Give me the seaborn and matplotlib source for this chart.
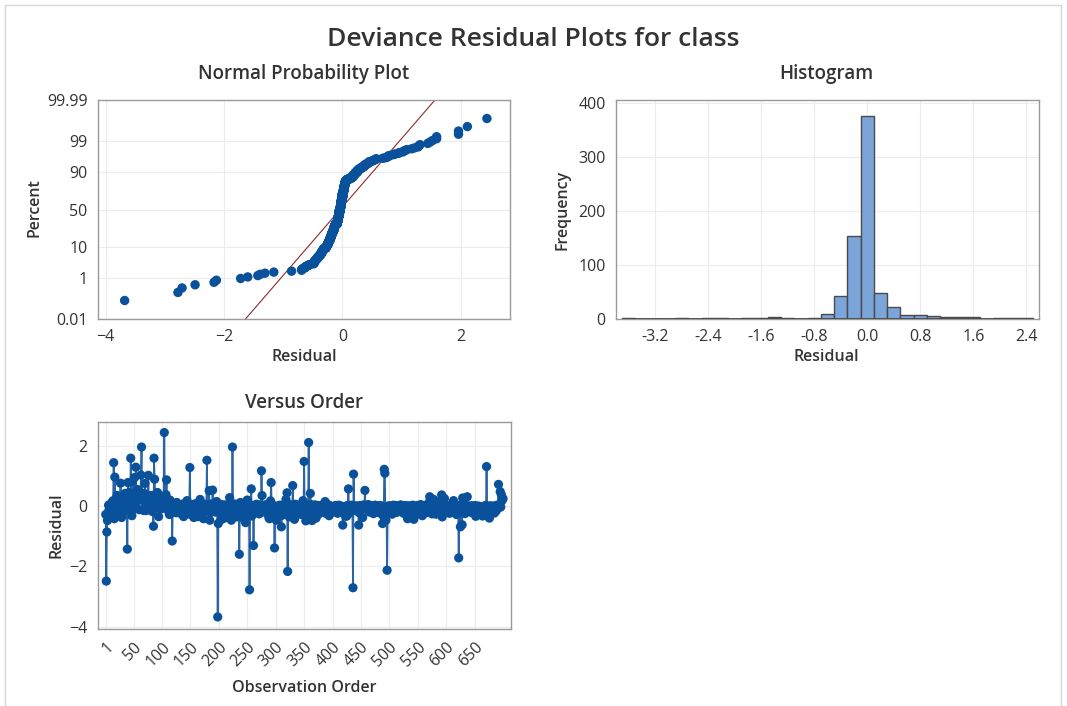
#!/usr/bin/env python3
"""Deviance residual plots (normal probability, histogram, versus order)."""

from statistics import NormalDist

import matplotlib
matplotlib.use('Agg')
import matplotlib.pyplot as plt
from matplotlib.patches import Rectangle
import numpy as np
import pandas as pd
import seaborn as sns

BULK_RESIDUALS_X100 = [
    -28, -15, -40, -48, -22, 3, -12, -35, 5, -18, -4, 12, -25, 18, -8, -42, 6, -20, -32, 8,
    35, -6, -32, 15, 22, -14, 22, -18, -38, 7, -20, 5, -7, 18, 42, 28, -12, 15, 25, -5,
    35, 45, -5, 20, 15, 32, -32, 82, 3, 28, 18, 95, -6, 20, -8, 40, 55, 25, 22, -12,
    45, 38, 15, -4, 28, 18, 25, -15, 42, 75, -3, -15, 20, 25, 5, 102, -6, -8, 25, 35,
    32, 18, -18, -2, 5, -25, 20, 38, 22, -5, 4, 45, 15, -35, 8, -4, 20, 5, -9, 25,
    28, -3, 32, -20, 25, -6, 38, -5, 12, -2, -15, 18, -28, 20, 5, -8, -4, 15, 0, -20,
    5, -15, 2, -4, -22, 12, -6, -1, 3, -18, 0, -8, -25, 4, -3, -12, 7, -35, -2, 1,
    -14, 3, -5, 18, -20, 0, -7, -2, 6, -28, -4, 2, -16, -9, 5, -38, -1, -12, 8, -3,
    -6, 4, -24, -35, 2, -15, 22, -5, -8, -22, -19, 0, -42, -3, 6, -13, -7, 1, -26, -2,
    3, -17, -4, 0, -22, 7, -6, -1, -32, 5, -14, -8, 2, -20, -3, 15, -8, 4, -27, -5,
    0, -13, 6, -45, -25, -7, 3, -18, -16, -40, 4, -6, -15, 1, -9, -21, 5, -3, 28, -12,
    -4, 2, -16, -8, 0, -23, -5, 7, -2, -14, -36, 3, -6, -19, 1, -7, -4, 12, -28, -1,
    5, -18, -38, 0, -45, -7, -55, -13, -5, 20, -24, -1, 4, -16, -8, 3, -2, -33, -9, 1,
    -6, -14, 2, -3, -21, 6, 0, -17, -8, 4, -26, -2, -12, 1, -5, 35, -19, -7, 3, -15,
    0, -18, -22, 5, -9, -13, 2, -38, -42, -6, 17, -18, -3, 4, -27, -7, 1, -11, -5, -2,
    6, -16, -3, 0, -24, -8, 3, -14, -1, -5, -31, 2, -20, -6, 4, -12, -9, 22, -2, -17,
    -4, 1, -13, -36, 5, -25, -2, -14, -19, -8, 3, -15, -44, -1, 6, -11, -5, 2, -22, -3,
    0, -16, -6, 4, -28, -2, -9, 18, -12, 1, -4, -21, -7, 3, -35, -1, -14, -5, 2, -18,
    -3, 5, -23, -48, 0, -12, -22, -6, 4, -17, -40, -1, -13, 2, -5, -26, -9, 1, -15, -4,
    3, -19, -7, 0, -11, -2, 15, -24, -5, -1, -14, -8, 4, -32, -3, -16, 0, -6, -21, -2,
    -5, -8, 0, -3, -18, 2, -7, -1, -24, -4, 3, -9, -15, -2, 0, -6, -21, 1, -8, -3,
    -2, -14, -34, 0, -33, -7, 2, -7, -24, -1, -19, -6, 3, -3, -8, -26, 0, -2, -13, -5,
    1, -7, -16, -3, 0, -4, -22, -8, 2, -1, -6, -5, -38, -2, 4, -9, -17, -3, 0, -6,
    -9, -2, 5, -4, -20, -7, 0, -3, -14, 1, -8, -25, -1, -5, 3, -13, -6, -2, -18, 0,
    -4, -9, -23, 2, -18, -6, -8, -58, -3, -35, -7, 4, -15, -2, -5, -1, -19, -8, 1, -3,
    -6, 0, -14, -2, -27, -4, 3, -8, -1, -6, -5, 2, -21, -3, -7, 0, -16, -2, -9, 4,
    -1, -13, -5, 0, -24, -3, -8, 2, -17, -6, -1, -42, -4, 1, -5, -7, -2, 0, -20, -5,
    3, -9, -44, -15, -4, -21, -28, -6, 2, -3, -7, -8, -1, -19, 5, -2, -6, -32, 0, -4,
    -14, -1, -7, 3, -22, -3, 0, -9, -5, 12, -18, -2, -6, 1, -26, -4, -8, 22, -1, -9,
    -3, -27, -16, -6, 2, -15, -21, -8, -4, 15, -13, -2, -36, -5, 0, -9, 25, -3, -17, -1,
    -6, 2, -8, -4, 0, -24, -2, -7, 1, -15, -5, -3, 18, -19, -1, -8, 0, -28, -4, -2,
    -9, -1, -14, 3, -5, -20, -2, -62, -7, -19, -3, 4, -25, -6, -1, -16, 20, -4, -8, 0,
    -2, -13, -5, 1, -22, -7, 0, -3, -17, -6, 2, -34, -1, -9, -4, -4, 0, -2, -19, -5,
    -3, -8, -15, -33, -4, -13, -26, -6, 2, -7, -5, -2, -18, 0, -7, -40, -3, 1, -14, -6,
    -1, -9, -4, 0, -23, -6, -2, -16, 3, -8, -1, -13, -5, 0, -28, -3, 12, 18, 22, 25,
]

# Large residuals (observation number, residual)
SPIKE_ORDER = [1, 2, 3, 15, 17, 27, 39, 40, 45, 54,
               63, 64, 85, 86, 87, 104, 108, 118, 149, 179,
               183, 184, 189, 198, 199, 222, 224, 236, 254, 257,
               261, 275, 292, 298, 301, 310, 320, 321, 330, 350,
               353, 358, 361, 418, 428, 436, 437, 446, 457, 491,
               492, 494, 496, 571, 592, 622, 625, 629, 637, 671,
               692, 695, 697]
SPIKE_RESIDUAL = [-0.28, -2.49, -0.86, 1.44, 0.96, 0.76, -1.43, 0.78, 1.59, 1.29,
                  1.03, 1.96, -0.67, 1.59, 0.89, 2.44, 0.87, -1.16, 1.28, 1.52,
                  0.51, -0.47, 0.53, -3.68, -0.58, -0.47, 1.96, -1.60, -2.78, 0.57,
                  -1.31, 1.17, 0.78, -1.39, -0.47, -0.69, 0.44, -2.17, 0.68, 1.48,
                  -0.49, 2.11, 0.42, -0.63, 0.57, -2.71, 1.06, -0.63, 0.52, 1.22,
                  1.09, -0.47, -2.13, 0.31, 0.37, -1.72, -0.69, 0.27, 0.31, 1.31,
                  0.72, 0.48, 0.38]

NP_PERCENT_TICKS = [0.01, 1, 10, 50, 90, 99, 99.99]
NP_PERCENT_LABELS = ['0.01', '1', '10', '50', '90', '99', '99.99']
NP_XTICKS = [-4, -2, 0, 2]
HIST_XTICKS = [-3.2, -2.4, -1.6, -0.8, 0.0, 0.8, 1.6, 2.4]
HIST_YTICKS = [0, 100, 200, 300, 400]
ORDER_XTICKS = [1, 50, 100, 150, 200, 250, 300, 350, 400, 450, 500, 550, 600, 650]
ORDER_YTICKS = [-4, -2, 0, 2]

DOT = '#0A519C'
LINE = '#2A64A4'
BAR = '#7BA4D8'
TEXT = '#333333'
FONT = ['Open Sans', 'DejaVu Sans']

W, H = 1067, 706


def px_axes(fig, left, top, right, bottom):
    return fig.add_axes([left / W, 1 - bottom / H, (right - left) / W, (bottom - top) / H])


def label(fig, x, y, s, size=11.5, rot=0, weight='semibold'):
    fig.text(x / W, 1 - y / H, s, ha='center', va='center', rotation=rot,
             fontsize=size, color=TEXT, fontweight=weight, family=FONT)


def style_axes(ax):
    ax.grid(True, color='#ececec', linewidth=0.8)
    ax.set_axisbelow(True)
    for sp in ax.spines.values():
        sp.set_color('#9a9a9a')
        sp.set_linewidth(1.0)
    ax.tick_params(colors='#777777', labelcolor=TEXT, labelsize=11.5, length=4, width=0.8)
    ax.set_xlabel('')
    ax.set_ylabel('')


def main():
    sns.set_style('white')
    plt.rcParams['font.family'] = FONT

    resid = np.array(BULK_RESIDUALS_X100, dtype=float) / 100.0
    resid[np.array(SPIKE_ORDER) - 1] = SPIKE_RESIDUAL
    n = len(resid)
    df = pd.DataFrame({'order': np.arange(1, n + 1), 'residual': resid})

    fig = plt.figure(figsize=(W / 100, H / 100), dpi=100)
    fig.patches.append(Rectangle((5 / W, -0.01), 1 - 11 / W, 1.0 - 5 / H + 0.01,
                                 transform=fig.transFigure, fill=False,
                                 edgecolor='#d6d6d6', linewidth=1.0))

    # Normal probability plot
    nd = NormalDist()
    ax1 = px_axes(fig, 98, 100, 510, 319)
    srt = np.sort(resid)
    pct = (np.arange(1, n + 1) - 0.3) / (n + 0.4)
    z = np.array([nd.inv_cdf(p) for p in pct])
    sns.scatterplot(x=srt, y=z, ax=ax1, color=DOT, s=46, edgecolor='none', zorder=3)
    mu, sd = resid.mean(), resid.std(ddof=1)
    xl = np.array([-4.13, 2.83])
    ax1.plot(xl, (xl - mu) / sd, color='#8E2A2A', linewidth=0.8, zorder=2)
    zlim = nd.inv_cdf(0.0001)
    ax1.set_xlim(-4.13, 2.83)
    ax1.set_ylim(zlim, -zlim)
    ax1.set_xticks(NP_XTICKS)
    ax1.set_yticks([nd.inv_cdf(p / 100) for p in NP_PERCENT_TICKS])
    ax1.set_yticklabels(NP_PERCENT_LABELS)
    style_axes(ax1)

    # Histogram
    ax2 = px_axes(fig, 616, 100, 1039, 319)
    sns.histplot(x=resid, ax=ax2, binwidth=0.2, binrange=(-3.7, 2.5),
                 color=BAR, edgecolor='#4a4a4a', linewidth=1.0, alpha=1.0, zorder=3)
    ax2.hlines(0, -3.7, 2.5, color='#4a4a4a', linewidth=2.0, zorder=4)
    ax2.set_xlim(-3.79, 2.59)
    ax2.set_ylim(0, 406)
    ax2.set_xticks(HIST_XTICKS)
    ax2.set_xticklabels([f'{t:.1f}' for t in HIST_XTICKS])
    ax2.set_yticks(HIST_YTICKS)
    style_axes(ax2)

    # Versus order
    ax3 = px_axes(fig, 98, 422, 511, 629)
    sns.lineplot(data=df, x='order', y='residual', ax=ax3, color=LINE,
                 linewidth=1.3, zorder=2)
    sns.scatterplot(data=df, x='order', y='residual', ax=ax3, color=DOT,
                    s=44, edgecolor='none', zorder=3)
    ax3.set_xlim(-12.6, 714)
    ax3.set_ylim(-4.08, 2.79)
    ax3.set_xticks(ORDER_XTICKS)
    ax3.set_xticklabels([str(t) for t in ORDER_XTICKS], rotation=45,
                        ha='right', rotation_mode='anchor')
    ax3.set_yticks(ORDER_YTICKS)
    style_axes(ax3)

    label(fig, 533, 40, 'Deviance Residual Plots for class', size=19)
    label(fig, 304, 74, 'Normal Probability Plot', size=13.5)
    label(fig, 826, 74, 'Histogram', size=13.5)
    label(fig, 304, 403, 'Versus Order', size=13.5)
    label(fig, 304, 357, 'Residual')
    label(fig, 826, 357, 'Residual')
    label(fig, 304, 688, 'Observation Order')
    label(fig, 35, 208, 'Percent', rot=90)
    label(fig, 563, 210, 'Frequency', rot=90)
    label(fig, 57, 525, 'Residual', rot=90)

    fig.savefig('out.png', dpi=100)
    plt.close(fig)


if __name__ == '__main__':
    main()
